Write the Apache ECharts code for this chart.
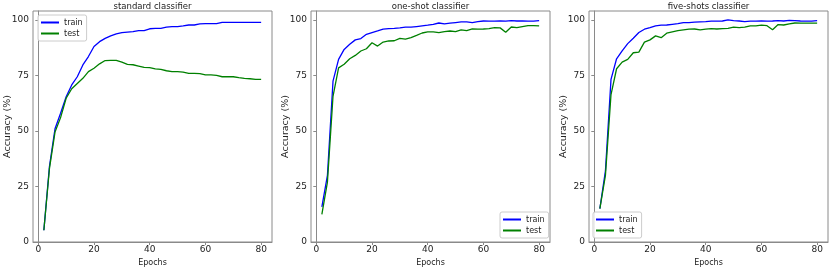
<!DOCTYPE html>
<html>
<head>
<meta charset="utf-8">
<script src="https://cdn.jsdelivr.net/npm/echarts@6/dist/echarts.min.js"></script>
<style>html,body{margin:0;padding:0;background:#fff}#c{width:830px;height:267px}</style>
</head>
<body>
<div id="c"></div>
<script>
const epochs = [2,4,6,8,10,12,14,16,18,20,22,24,26,28,30,32,34,36,38,40,42,44,46,48,50,52,54,56,58,60,62,64,66,68,70,72,74,76,78,80];
const stdTrain = [5.3,34,51,58,65.4,70.7,74.4,79.7,83.5,88,90.2,91.7,92.8,93.7,94.3,94.5,94.7,95.2,95.2,96,96.2,96.2,96.7,97,97,97.3,97.7,97.7,98.2,98.3,98.3,98.3,98.9,98.9,98.9,98.9,98.9,98.9,98.9,98.9];
const stdTest = [5.3,33,49.5,56,64.7,69,71.4,73.7,76.7,78.2,80.2,81.7,81.8,81.8,81,80,79.8,79.2,78.6,78.5,77.9,77.7,77.1,76.7,76.7,76.5,75.9,75.9,75.8,75.2,75.2,75,74.4,74.4,74.4,74,73.7,73.5,73.2,73.2];
const oneTrain = [15.8,30,72.4,82.2,86.7,89,91,91.6,93.5,94.3,95,95.8,96.1,96.2,96.4,96.7,96.7,97,97.3,97.6,98,98.6,98.2,98.5,98.8,99.1,99.1,98.8,99.2,99.5,99.4,99.4,99.5,99.4,99.7,99.5,99.5,99.4,99.4,99.7];
const oneTest = [12.4,27,65.6,78.4,80,82.5,84,86,87,89.7,88.2,90,90.5,90.6,91.7,91.3,92,93,94.1,94.6,94.6,94.3,94.7,95,94.7,95.5,95.2,95.9,95.8,95.9,96.1,96.5,96.4,94.4,96.8,96.5,97,97.4,97.4,97.3];
const fiveTrain = [15,32,73.2,82.5,86,89.3,91.7,94.3,95.8,96.5,97.3,97.6,97.7,98,98.3,98.8,98.8,99,99.1,99.2,99.4,99.4,99.5,100,99.7,99.5,99.2,99.4,99.4,99.5,99.4,99.5,99.7,99.5,99.8,99.7,99.5,99.4,99.4,99.7];
const fiveTest = [15,30,66.4,78,81,82.2,85.2,85.5,90,91,92.8,92,94,94.6,95.2,95.5,95.8,95.9,95.5,95.8,96.1,95.9,96.1,96.2,96.7,96.5,96.7,97.3,97.3,97.6,97.4,95.6,97.9,97.7,98.2,98.6,98.5,98.5,98.5,98.5];
const xTicks = [0,20,40,60,80];
const yTicks = [0,25,50,75,100];
const titles = ['standard classifier','one-shot classifier','five-shots classifier'];
const seriesNames = ['train','test'];

const FONT = 'DejaVu Sans';
const TXT = '#222';
const FRAME = '#8a8a8a';
const lefts = [33, 311, 589];
const W = 239, TOP = 11, H = 231;
const panels = [[stdTrain, stdTest],[oneTrain, oneTest],[fiveTrain, fiveTest]];
const colors = ['#0000ff', '#008000'];

const chart = echarts.init(document.getElementById('c'), null, {renderer:'canvas'});
const grid = [], xAxis = [], yAxis = [], series = [], title = [];
lefts.forEach((l, i) => {
  grid.push({left:l, top:TOP, width:W, height:H, show:true, borderColor:FRAME, borderWidth:1,
    backgroundColor:'transparent', containLabel:false, outerBoundsMode:'none'});
  title.push({text:titles[i], left:l + W/2, top:2, textAlign:'center', padding:0,
    textStyle:{fontFamily:FONT, fontSize:8.5, fontWeight:'normal', color:TXT}});
  xAxis.push({type:'value', gridIndex:i, min:-1.9, max:83.9, name:'Epochs', nameLocation:'middle', nameGap:17,
    nameMoveOverlap:false,
    nameTextStyle:{fontFamily:FONT, fontSize:8, color:TXT},
    axisLine:{show:true, lineStyle:{color:FRAME, width:1}},
    axisTick:{show:true, length:3, lineStyle:{color:FRAME}, customValues:xTicks},
    axisLabel:{fontFamily:FONT, fontSize:9, color:TXT, margin:3, customValues:xTicks},
    splitLine:{show:false}});
  yAxis.push({type:'value', gridIndex:i, min:0, max:104, name:'Accuracy (%)', nameLocation:'middle', nameGap:20,
    nameMoveOverlap:false,
    nameTextStyle:{fontFamily:FONT, fontSize:9.5, color:TXT},
    axisLine:{show:true, lineStyle:{color:FRAME, width:1}},
    axisTick:{show:true, length:3, lineStyle:{color:FRAME}, customValues:yTicks},
    axisLabel:{fontFamily:FONT, fontSize:9, color:TXT, margin:4, customValues:yTicks},
    splitLine:{show:false}});
  panels[i].forEach((vals, k) => {
    series.push({type:'line', name:seriesNames[k], xAxisIndex:i, yAxisIndex:i,
      data: epochs.map((e, j) => [e, vals[j]]),
      showSymbol:false, symbol:'none', silent:true, animation:false,
      lineStyle:{color:colors[k], width:1.3}, itemStyle:{color:colors[k]}});
  });
});
const legendBase = {orient:'vertical', data:seriesNames, icon:'rect', itemWidth:18, itemHeight:2, itemGap:2,
  padding:[3,4,3,3], backgroundColor:'rgba(255,255,255,0.85)', borderColor:'#cccccc', borderWidth:1, borderRadius:2,
  textStyle:{fontFamily:FONT, fontSize:8, color:TXT, lineHeight:9}, selectedMode:false};
const legend = [
  Object.assign({}, legendBase, {left:38, top:15}),
  Object.assign({}, legendBase, {left:500, top:212}),
  Object.assign({}, legendBase, {left:593, top:212})
];
chart.setOption({animation:false, backgroundColor:'#fff', title, grid, xAxis, yAxis, series, legend});
</script>
</body>
</html>
